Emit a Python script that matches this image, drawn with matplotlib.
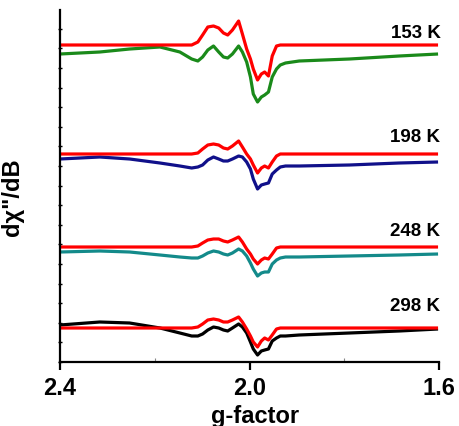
import matplotlib
matplotlib.use("Agg")
import matplotlib.pyplot as plt
from matplotlib.ticker import MultipleLocator, FixedLocator

plt.rcParams['font.family'] = ['Liberation Sans', 'DejaVu Sans']
plt.rcParams['font.weight'] = 'bold'

# g-factor sampling grid (shared by all spectra)
g = [2.400, 2.316, 2.253, 2.189, 2.147, 2.122, 2.109, 2.099, 2.088, 2.076,
     2.065, 2.055, 2.046, 2.036, 2.023, 2.015, 2.006, 1.998, 1.992, 1.983,
     1.975, 1.968, 1.960, 1.952, 1.943, 1.935, 1.924, 1.895, 1.789, 1.684, 1.602]

# stacked dchi''/dB signals (arbitrary units, offset per temperature)
exp_153 = [308, 310, 313, 315, 310, 303, 301, 305, 312, 316, 310, 305, 304, 308, 316, 310,
           300, 285, 268, 260, 265, 267, 270, 285, 293, 297, 299, 301, 303, 306, 308]
fit_153 = [317, 317, 317, 317, 317, 317, 320, 327, 335, 336, 334, 329, 327, 332, 341, 328,
           313, 303, 293, 282, 288, 290, 286, 306, 316, 317, 317, 317, 317, 317, 317]
exp_198 = [203, 205, 203, 199, 196, 194, 195, 197, 202, 205, 203, 201, 201, 203, 206, 205,
           200, 193, 183, 173, 177, 178, 179, 188, 192, 195, 196, 196, 197, 199, 200]
fit_198 = [208, 208, 208, 208, 208, 208, 209, 213, 217, 218, 217, 214, 213, 216, 221, 215,
           208, 203, 197, 189, 194, 196, 194, 200, 206, 208, 208, 208, 208, 208, 208]
exp_248 = [110, 111, 110, 107, 105, 104, 104, 106, 109, 111, 110, 108, 107, 109, 113, 111,
           106, 99, 93, 86, 89, 90, 90, 98, 102, 104, 105, 105, 106, 107, 108]
fit_248 = [115, 115, 115, 115, 115, 115, 116, 119, 122, 123, 123, 121, 120, 122, 125, 120,
           113, 108, 103, 98, 102, 104, 103, 108, 114, 115, 115, 115, 115, 115, 115]
exp_298 = [37, 40, 39, 34, 29, 26, 26, 28, 32, 35, 34, 32, 31, 34, 38, 35,
           29, 20, 13, 7, 11, 12, 13, 21, 24, 26, 26, 27, 29, 31, 33]
fit_298 = [34, 34, 34, 34, 34, 34, 35, 38, 42, 43, 42, 40, 40, 42, 45, 40,
           33, 26, 20, 15, 21, 24, 22, 27, 33, 34, 34, 34, 34, 34, 34]

labels = ['153 K', '198 K', '248 K', '298 K']
label_y = [330, 225, 131, 56]
exp_series = [exp_153, exp_198, exp_248, exp_298]
fit_series = [fit_153, fit_198, fit_248, fit_298]
exp_colors = ['#1a8a1a', '#10108a', '#138a8a', '#000000']
fit_color = '#ff0000'

fig = plt.figure(figsize=(4.59, 4.27), dpi=100)
ax = fig.add_axes([60/459, (427-363)/427, 379/459, 352/427])

for e, f, c in zip(exp_series, fit_series, exp_colors):
    ax.plot(g, e, color=c, lw=2.3, solid_joinstyle='round', solid_capstyle='butt')
    ax.plot(g, f, color=fit_color, lw=2.3, solid_joinstyle='round', solid_capstyle='butt')

for lab, yy in zip(labels, label_y):
    ax.text(1.597, yy, lab, ha='right', va='center', fontsize=13.5, fontweight='bold',
            clip_on=False)

ax.set_xlim(2.4, 1.6)
ax.set_ylim(0, 352)
for s in ['top', 'right']:
    ax.spines[s].set_visible(False)
for s in ['left', 'bottom']:
    ax.spines[s].set_linewidth(1.6)

ax.xaxis.set_major_locator(FixedLocator([2.4, 2.0, 1.6]))
ax.xaxis.set_minor_locator(FixedLocator([2.2, 1.8]))
ax.set_xticklabels(['2.4', '2.0', '1.6'])
ax.tick_params(axis='x', which='major', direction='out', length=6, width=1.6,
               labelsize=17, pad=4)
ax.tick_params(axis='x', which='minor', direction='in', length=3, width=0.8, color='#888888')
for t in ax.get_xticklabels():
    t.set_fontweight('bold')

ax.yaxis.set_major_locator(MultipleLocator(19.6))
ax.tick_params(axis='y', which='major', direction='inout', length=3, width=1.0,
               labelleft=False)

ax.set_xlabel('g-factor', fontsize=17, fontweight='bold')
ax.xaxis.set_label_coords(0.514, -0.118)
ax.set_ylabel('dχ"/dB', fontsize=17, fontweight='bold')
ax.yaxis.set_label_coords(-0.095, 0.47)

fig.savefig('out.png', dpi=100)
